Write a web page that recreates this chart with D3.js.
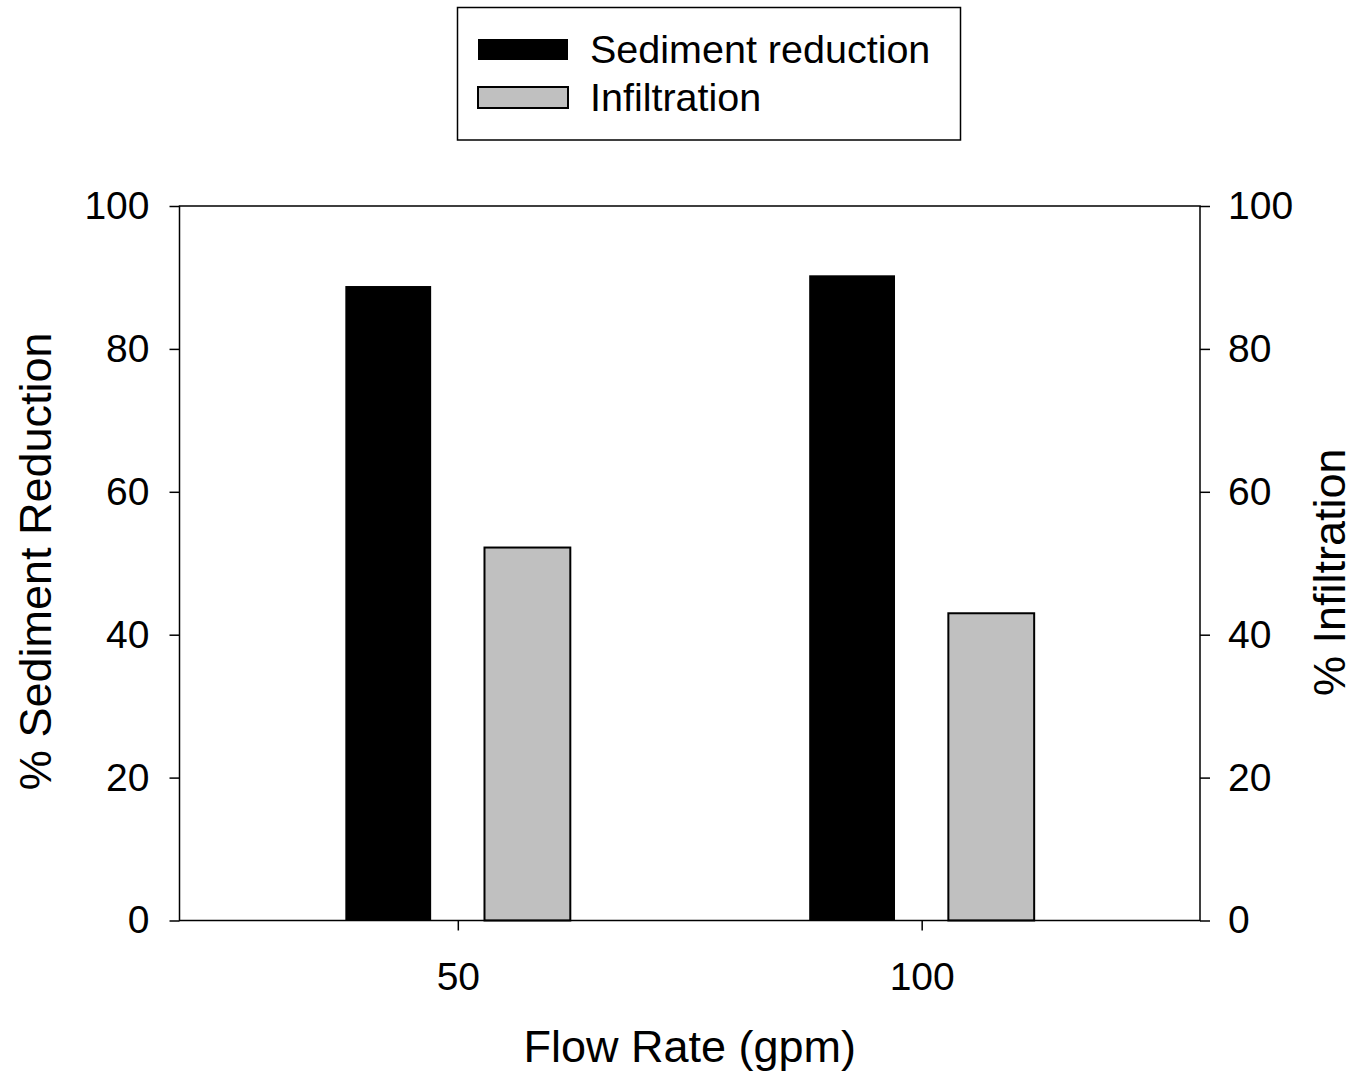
<!DOCTYPE html>
<html>
<head>
<meta charset="utf-8">
<script src="https://cdn.jsdelivr.net/npm/d3@7"></script>
<style>
  html, body { margin: 0; padding: 0; background: #fff; }
  svg { display: block; }
  text { font-family: "Liberation Sans", Arial, sans-serif; fill: #000; }
</style>
</head>
<body>
<svg id="chart" width="1354" height="1072"></svg>
<script>
// ---- data ----
const flowRates = [50, 100];
const sedimentReduction = [88.8, 90.3];
const infiltration = [52.2, 43.0];
const seriesNames = ["Sediment reduction", "Infiltration"];
const yTicks = [0, 20, 40, 60, 80, 100];
const xTicks = [50, 100];

(function () {
// ---- layout ----
const svg = d3.select("#chart");
const pLeft = 179.5, pRight = 1200, pTop = 206, pBottom = 920.5;
const x = d3.scaleLinear().domain([20, 130]).range([pLeft, pRight]);
const yL = d3.scaleLinear().domain([0, 100]).range([pBottom, pTop]);
const yR = d3.scaleLinear().domain([0, 100]).range([pBottom, pTop]);
const barOffset = 7.5, barWidth = 9.25;
const colors = ["#000000", "#c0c0c0"];

const series = [sedimentReduction, infiltration];
series.forEach((vals, si) => {
  const yS = si === 0 ? yL : yR;
  svg.append("g").selectAll("rect")
    .data(flowRates.map((f, i) => ({ f, v: vals[i] })))
    .join("rect")
    .attr("x", d => x(d.f + (si === 0 ? -barOffset : barOffset) - barWidth / 2))
    .attr("width", d => x(d.f + barWidth / 2) - x(d.f - barWidth / 2))
    .attr("y", d => yS(d.v))
    .attr("height", d => yS(0) - yS(d.v))
    .attr("fill", colors[si])
    .attr("stroke", "#000")
    .attr("stroke-width", si === 0 ? 0 : 2);
});

// frame
svg.append("rect")
  .attr("x", pLeft).attr("y", pTop)
  .attr("width", pRight - pLeft).attr("height", pBottom - pTop)
  .attr("fill", "none").attr("stroke", "#000").attr("stroke-width", 1.5);

const fs = 39;
// axes
const axL = svg.append("g").attr("transform", `translate(${pLeft},0)`)
  .call(d3.axisLeft(yL).tickValues(yTicks).tickSize(10).tickPadding(20).tickFormat(d3.format("d")));
const axR = svg.append("g").attr("transform", `translate(${pRight},0)`)
  .call(d3.axisRight(yR).tickValues(yTicks).tickSize(10).tickPadding(18).tickFormat(d3.format("d")));
const axB = svg.append("g").attr("transform", `translate(0,${pBottom})`)
  .call(d3.axisBottom(x).tickValues(xTicks).tickSize(10).tickPadding(32).tickFormat(d3.format("d")));
[axL, axR, axB].forEach(a => {
  a.select(".domain").remove();
  a.selectAll(".tick line").attr("stroke", "#000").attr("stroke-width", 1.5);
  a.selectAll(".tick text").attr("font-size", fs)
    .attr("font-family", "'Liberation Sans', Arial, sans-serif").attr("fill", "#000");
});

// axis titles
const tfs = 45;
svg.append("text")
  .attr("transform", `translate(51,${(pTop + pBottom) / 2 - 2}) rotate(-90)`)
  .attr("text-anchor", "middle").attr("font-size", tfs)
  .text("% Sediment Reduction");
svg.append("text")
  .attr("transform", `translate(1345,${(pTop + pBottom) / 2 + 9}) rotate(-90)`)
  .attr("text-anchor", "middle").attr("font-size", tfs)
  .text("% Infiltration");
svg.append("text")
  .attr("x", (pLeft + pRight) / 2).attr("y", 1062)
  .attr("text-anchor", "middle").attr("font-size", tfs)
  .text("Flow Rate (gpm)");

// legend
const lg = svg.append("g");
lg.append("rect").attr("x", 457.5).attr("y", 7.5).attr("width", 503).attr("height", 132.5)
  .attr("fill", "#fff").attr("stroke", "#000").attr("stroke-width", 1.5);
seriesNames.forEach((name, i) => {
  const yy = 39 + i * 48;
  lg.append("rect").attr("x", 478).attr("y", yy).attr("width", 90).attr("height", 21)
    .attr("fill", colors[i]).attr("stroke", "#000").attr("stroke-width", i === 0 ? 0 : 2);
  lg.append("text").attr("x", 590).attr("y", yy + 10.5).attr("dy", "0.35em")
    .attr("font-size", 39.5).text(name);
});
})();
</script>
</body>
</html>
